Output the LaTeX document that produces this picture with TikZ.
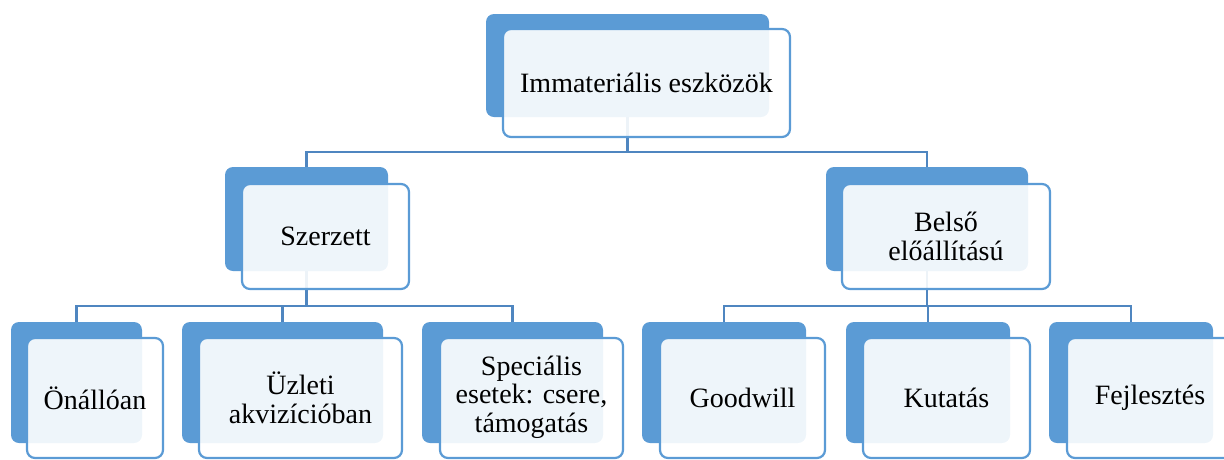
\documentclass[tikz,border=0pt]{standalone}
\usepackage{fontspec}
\setmainfont{Liberation Serif}
\definecolor{dk}{HTML}{5B9BD5}
\definecolor{ln}{HTML}{4F86C0}
\tikzset{
 back/.style={draw=none, fill=dk, rounded corners=8pt, inner sep=0pt, outer sep=0pt},
 front/.style={draw=dk, line width=2.2pt, fill=white, fill opacity=0.9, text opacity=1, rounded corners=8pt, inner sep=0pt, outer sep=0pt, align=center, font=\fontsize{28}{28.5}\selectfont},
 conn/.style={draw=ln, line width=2.2pt}
}
\begin{document}
\begin{tikzpicture}[x=1pt,y=-1pt]
\useasboundingbox (0,0) rectangle (1224,459);
\clip (0,0) rectangle (1224,459);
% back boxes
\node[back, minimum width=283pt, minimum height=103pt] (topd) at (627.5,65.5) {};
\node[back, minimum width=163pt, minimum height=104pt] (szd) at (306.5,219) {};
\node[back, minimum width=202pt, minimum height=104pt] (bed) at (927,219) {};
\node[back, minimum width=131pt, minimum height=121pt] (ond) at (76.5,382.5) {};
\node[back, minimum width=201pt, minimum height=121pt] (uzd) at (282.5,382.5) {};
\node[back, minimum width=181pt, minimum height=121pt] (spd) at (512.5,382.5) {};
\node[back, minimum width=164pt, minimum height=121pt] (god) at (724,382.5) {};
\node[back, minimum width=164pt, minimum height=121pt] (kud) at (928,382.5) {};
\node[back, minimum width=164pt, minimum height=121pt] (fed) at (1131,382.5) {};
% connectors
\draw[conn] (topd.south) -- ++(0,35) -| (szd.north);
\draw[conn] (topd.south) -- ++(0,35) -| (bed.north);
\draw[conn] (szd.south) -- ++(0,35) -| (ond.north);
\draw[conn] (szd.south) -- ++(0,35) -| (uzd.north);
\draw[conn] (szd.south) -- ++(0,35) -| (spd.north);
\draw[conn] (bed.south) -- ++(0,35) -| (god.north);
\draw[conn] (bed.south) -- ++(0,35) -| (kud.north);
\draw[conn] (bed.south) -- ++(0,35) -| (fed.north);
% front boxes
\node[front, minimum width=287pt, minimum height=108pt] (topf) at (646.5,83) {Immateriális eszközök};
\node[front, minimum width=167pt, minimum height=105pt] (szf) at (325.5,236.5) {Szerzett};
\node[front, minimum width=208pt, minimum height=105pt] (bef) at (946,236.5) {Belső\\előállítású};
\node[front, minimum width=136pt, minimum height=120pt] (onf) at (95,398) {Önállóan};
\node[front, minimum width=203pt, minimum height=120pt] (uzf) at (300.5,398) {Üzleti\\akvizícióban};
\node[front, minimum width=183pt, minimum height=120pt] (spf) at (531.5,398) {\raisebox{-4pt}{\begin{tabular}{@{}c@{}}Speciális\\esetek: csere,\\támogatás\end{tabular}}};
\node[front, minimum width=165pt, minimum height=120pt] (gof) at (742.5,398) {Goodwill};
\node[front, minimum width=167pt, minimum height=120pt] (kuf) at (946.5,398) {Kutatás};
\node[front, minimum width=166pt, minimum height=120pt] (fef) at (1150,398) {Fejlesztés};
\end{tikzpicture}
\end{document}
